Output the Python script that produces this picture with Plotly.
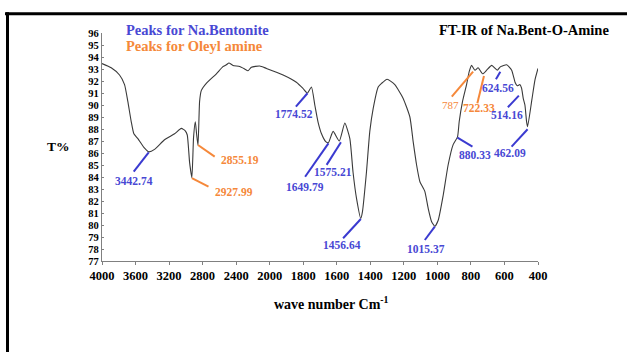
import plotly.graph_objects as go

# ---------------- data ----------------
wavenumber = [4000, 3890, 3791, 3731, 3692, 3651, 3620, 3572, 3492, 3443, 3373, 3254, 3134, 3054,
              3007, 2983, 2955, 2928, 2908, 2887, 2872, 2855, 2836, 2816, 2756, 2636, 2558, 2517,
              2486, 2438, 2358, 2299, 2259, 2218, 2119, 2039, 1920, 1841, 1803, 1781, 1774, 1751,
              1731, 1712, 1691, 1666, 1650, 1622, 1585, 1552, 1522, 1503, 1482, 1457, 1447, 1423,
              1403, 1383, 1353, 1333, 1300, 1254, 1204, 1164, 1144, 1124, 1104, 1075, 1055, 1035,
              1015, 995, 965, 936, 906, 880, 870, 850, 826, 810, 796, 776, 757, 730, 706, 676, 643,
              623, 587, 557, 537, 524, 508, 498, 488, 478, 468, 462, 437, 418, 400]
transmittance = [93.45, 93.1, 92.5, 91.7, 90.3, 88.6, 87.6, 87.2, 86.4, 86.1, 86.3, 87.1, 87.6, 88.05,
                 87.85, 87.5, 85.2, 83.95, 87.3, 88.6, 87.6, 86.65, 90.3, 91.2, 91.8, 92.6, 93.2, 93.35,
                 93.5, 93.3, 93.2, 93.0, 92.85, 93.15, 93.25, 93.05, 92.5, 91.9, 91.4, 91.05, 91.0, 91.5,
                 90.0, 88.6, 87.6, 86.95, 86.85, 87.8, 87.0, 88.5, 87.2, 84.4, 82.2, 80.55, 81.1, 84.4,
                 87.8, 89.7, 91.5, 91.8, 92.15, 91.7, 90.55, 89.0, 86.9, 85.0, 83.6, 82.8, 81.4, 80.3,
                 79.9, 80.4, 82.5, 85.0, 86.7, 87.35, 88.6, 90.3, 91.7, 92.8, 93.3, 92.9, 93.1, 92.6,
                 92.9, 93.3, 92.9, 93.2, 93.35, 92.9, 91.9, 91.6, 91.7, 91.4, 90.55, 90.0, 88.6, 88.2,
                 90.4, 92.1, 93.05]

x_tick_values = [4000, 3600, 3200, 2800, 2400, 2000, 1800, 1600, 1400, 1200, 1000, 800, 600, 400]
y_tick_values = list(range(77, 97))

peak_labels = ["3442.74", "2927.99", "2855.19", "1774.52", "1649.79", "1575.21", "1456.64",
               "1015.37", "880.33", "787", "722.33", "624.56", "514.16", "462.09"]
peak_wn = [3442.74, 2927.99, 2855.19, 1774.52, 1649.79, 1575.21, 1456.64,
           1015.37, 880.33, 787, 722.33, 624.56, 514.16, 462.09]
peak_t = [86.06, 83.9, 86.67, 90.98, 86.8, 86.9, 80.5, 79.86, 87.28, 92.78, 92.42, 92.78, 90.78, 87.98]
peak_group = ["bent", "oleyl", "oleyl", "bent", "bent", "bent", "bent",
              "bent", "bent", "oleyl", "oleyl", "bent", "bent", "bent"]

# ---------------- layout helpers (positions / styles) ----------------
# leader line tail offsets (px, y down) and label centre offsets (px, y down)
leader_off = [(-15, 19.4), (16.6, 8.4), (16.7, 11.7), (-11.6, 13.4), (-23.3, 33.4), (-14.3, 22.7),
              (-17.7, 19.3), (-10, 13.3), (15, 9), (-21.3, 25), (-6.6, 27.3), (-4.4, 7.6),
              (-11, 11.6), (-16, 17.4)]
label_off = [(-14.3, 28.7), (42, 13.4), (42, 15), (-13.3, 21), (-23.3, 43.7), (-7.7, 30),
             (-19.3, 26), (-9, 22.6), (17.3, 17.3), (-22.3, 33.3), (-5, 32.3), (-2.4, 16.6),
             (-11.8, 19.3), (-17.3, 24)]

BLUE_TXT = "#4848d4"
BLUE_LINE = "#3a3ad0"
ORANGE = "#f5883a"
SERIF = "Liberation Serif"


def axis_pos(wn):
    """split wavenumber axis: 400 cm-1 per division above 2000, 200 below"""
    if wn >= 2000:
        return (4000 - wn) / 400.0
    return 5 + (2000 - wn) / 200.0


W, H = 627, 352
ML, MR, MT, MB = 102, 89, 33, 91
PW, PH = W - ML - MR, H - MT - MB


def px(x):
    return (x - ML) / PW


def py(y):
    return (H - MB - y) / PH


xs = [axis_pos(w) for w in wavenumber]

fig = go.Figure()
fig.add_trace(go.Scatter(x=xs, y=transmittance, mode="lines",
                         line=dict(color="#3a3a3a", width=1.1, shape="spline", smoothing=0.5),
                         hoverinfo="skip", showlegend=False))

shapes = []
annotations = []
for lab, wn, t, grp, lo, to in zip(peak_labels, peak_wn, peak_t, peak_group, leader_off, label_off):
    col_line = BLUE_LINE if grp == "bent" else ORANGE
    col_txt = BLUE_TXT if grp == "bent" else ORANGE
    xa = axis_pos(wn)
    shapes.append(dict(type="line", xref="x", yref="y", xsizemode="pixel", ysizemode="pixel",
                       xanchor=xa, yanchor=t, x0=0, y0=0, x1=lo[0], y1=-lo[1],
                       line=dict(color=col_line, width=2)))
    bold = lab != "787"
    annotations.append(dict(x=xa, y=t, xref="x", yref="y", text=lab, showarrow=False,
                            xshift=to[0], yshift=-to[1], xanchor="center", yanchor="middle",
                            font=dict(family=SERIF, size=11.5 if bold else 11, color=col_txt,
                                      weight="bold" if bold else "normal")))

# frame lines (top and left)
shapes.append(dict(type="line", xref="paper", yref="paper", x0=px(5), x1=px(640), y0=py(13.8), y1=py(13.8),
                   line=dict(color="black", width=3)))
shapes.append(dict(type="line", xref="paper", yref="paper", x0=px(7.5), x1=px(7.5), y0=py(12.3), y1=py(360),
                   line=dict(color="black", width=3)))

texts = [
    ("Peaks for Na.Bentonite", 124, 30.5, "left", BLUE_TXT, 14.5),
    ("Peaks for Oleyl amine", 124, 46, "left", ORANGE, 14.5),
    ("FT-IR of Na.Bent-O-Amine", 437, 30, "left", "black", 14.5),
    ("T%", 58.5, 146, "center", "black", 13.5),
    ("wave number Cm<sup>-1</sup>", 272, 303, "left", "black", 14),
]
for txt, x, y, anc, col, sz in texts:
    annotations.append(dict(x=px(x), y=py(y), xref="paper", yref="paper", text=txt, showarrow=False,
                            xanchor=anc, yanchor="middle",
                            font=dict(family=SERIF, size=sz, color=col, weight="bold")))

fig.update_layout(
    width=W, height=H,
    margin=dict(l=ML, r=MR, t=MT, b=MB, pad=0),
    paper_bgcolor="white", plot_bgcolor="white",
    shapes=shapes, annotations=annotations,
    xaxis=dict(range=[0, 13], tickvals=[axis_pos(v) for v in x_tick_values],
               ticktext=[str(v) for v in x_tick_values], showgrid=False, zeroline=False,
               showline=True, linecolor="#808080", linewidth=1.3, ticks="outside", ticklen=3,
               tickcolor="#808080",
               tickfont=dict(family=SERIF, size=12.5, color="black", weight="bold")),
    yaxis=dict(range=[77, 96], tickvals=y_tick_values, ticktext=[str(v) for v in y_tick_values],
               showgrid=False, zeroline=False, showline=True, linecolor="#808080", linewidth=1.3,
               ticks="inside", ticklen=2, tickcolor="#808080",
               tickfont=dict(family=SERIF, size=10.5, color="black", weight="bold")),
)

fig.write_html("out.html")
